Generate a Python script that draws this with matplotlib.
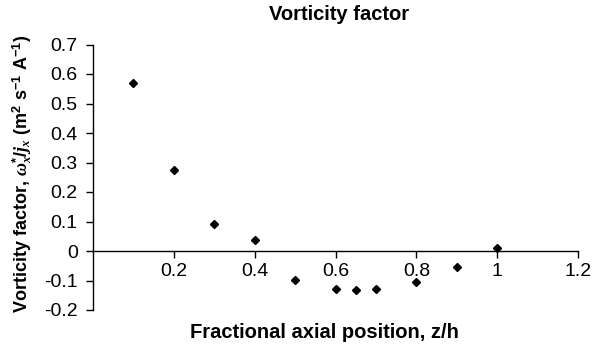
import matplotlib
matplotlib.use("Agg")
import matplotlib.pyplot as plt
from matplotlib.ticker import FixedLocator, FixedFormatter

plt.rcParams['font.family'] = ['Liberation Sans', 'DejaVu Sans']
plt.rcParams['font.weight'] = 'bold'
plt.rcParams['mathtext.fontset'] = 'custom'
plt.rcParams['mathtext.rm'] = 'Liberation Sans:bold'
plt.rcParams['mathtext.it'] = 'Liberation Serif:bold:italic'
plt.rcParams['mathtext.bf'] = 'Liberation Sans:bold'
plt.rcParams['axes.unicode_minus'] = False

z = [0.1, 0.2, 0.3, 0.4, 0.5, 0.6, 0.65, 0.7, 0.8, 0.9, 1.0]
vort = [0.569, 0.275, 0.092, 0.037, -0.098, -0.129, -0.132, -0.129, -0.105, -0.054, 0.010]

xticks = [0.2, 0.4, 0.6, 0.8, 1.0, 1.2]
xticklabels = ["0.2", "0.4", "0.6", "0.8", "1", "1.2"]
yticks = [0.7, 0.6, 0.5, 0.4, 0.3, 0.2, 0.1, 0.0, -0.1, -0.2]
yticklabels = ["0.7", "0.6", "0.5", "0.4", "0.3", "0.2", "0.1", "0", "-0.1", "-0.2"]

fig = plt.figure(figsize=(5.99, 3.51), dpi=100)
ax = fig.add_axes([93/599, 1-310/351, (578-93)/599, (310-44.5)/351])

ax.plot(z, vort, linestyle='none', marker='D', color='black', markersize=4.2)

ax.set_xlim(0, 1.2)
ax.set_ylim(-0.2, 0.7)
ax.spines['top'].set_visible(False)
ax.spines['right'].set_visible(False)
ax.spines['bottom'].set_position(('data', 0))
for s in ('left', 'bottom'):
    ax.spines[s].set_linewidth(1.0)

ax.xaxis.set_major_locator(FixedLocator(xticks))
ax.xaxis.set_major_formatter(FixedFormatter(xticklabels))
ax.yaxis.set_major_locator(FixedLocator(yticks))
ax.yaxis.set_major_formatter(FixedFormatter(yticklabels))
ax.tick_params(axis='both', direction='out', length=5, width=1.0,
               labelsize=14, pad=4)
ax.tick_params(axis='y', pad=6)
for lab in ax.get_xticklabels() + ax.get_yticklabels():
    lab.set_fontweight('normal')

fig.text(339/599, 1-15/351, "Vorticity factor", ha='center', va='center',
         fontsize=14.5, fontweight='bold')
fig.text(324/599, 1-332/351, "Fractional axial position, z/h", ha='center',
         va='center', fontsize=14.5, fontweight='bold')
fig.text(22/599, 1-174/351,
         r"Vorticity factor, $\omega^{*}_{x}/j_{x}$ (m$^{2}$ s$^{-1}$ A$^{-1}$)",
         rotation=90, ha='center', va='center', fontsize=13, fontweight='bold')

fig.savefig("out.png", dpi=100)
